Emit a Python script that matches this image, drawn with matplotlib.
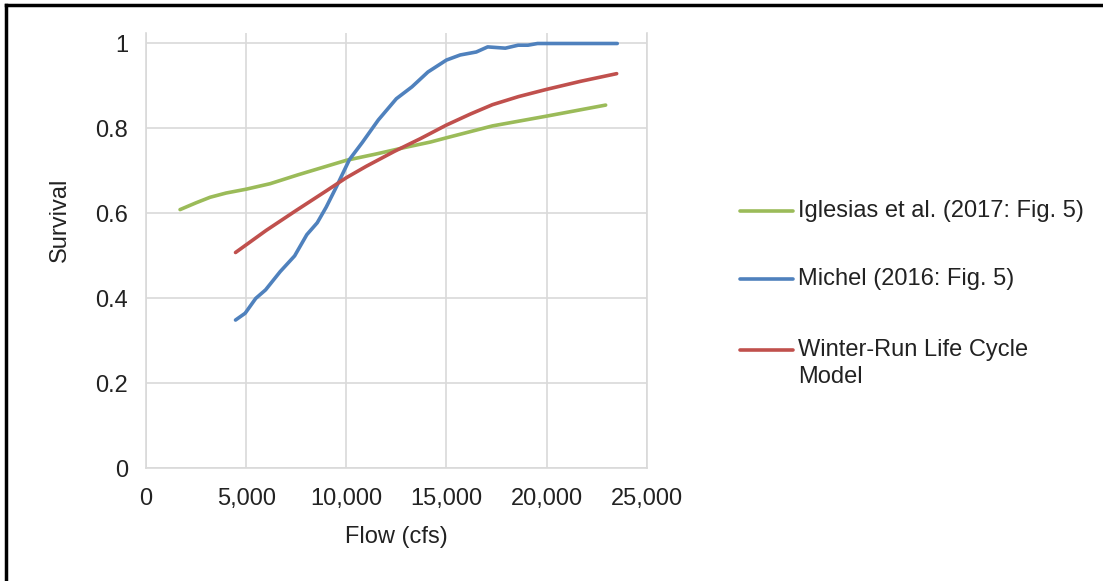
import matplotlib.pyplot as plt
import numpy as np
from matplotlib.lines import Line2D
from matplotlib.ticker import FuncFormatter

plt.rcParams['font.family'] = ['Liberation Sans', 'DejaVu Sans']

# data (flow in cfs, survival)
iglesias_flow = [1700, 2500, 3200, 4000, 5000, 6200, 7600, 8800, 10000, 11500, 13000, 14200,
                 15000, 17300, 20000, 22950]
iglesias_surv = [0.609, 0.625, 0.638, 0.648, 0.657, 0.670, 0.691, 0.708, 0.725, 0.740, 0.756,
                 0.768, 0.778, 0.806, 0.829, 0.855]

michel_flow = [4470, 4950, 5480, 5970, 6700, 7420, 8030, 8550, 9000, 9500, 10160, 10800,
               11600, 12500, 13280, 14080, 15000, 15690, 16490, 17060, 17940, 18580,
               19070, 19550, 23530]
michel_surv = [0.349, 0.365, 0.400, 0.420, 0.463, 0.500, 0.550, 0.578, 0.615, 0.662, 0.727, 0.767,
               0.820, 0.870, 0.898, 0.933, 0.961, 0.973, 0.980, 0.992, 0.989, 0.996,
               0.996, 1.0, 1.0]

lcm_flow = [4470, 6000, 7500, 9000, 10000, 11000, 12400, 13700, 15000, 16200, 17300, 18600,
            20000, 21700, 23500]
lcm_surv = [0.508, 0.560, 0.607, 0.653, 0.684, 0.711, 0.746, 0.776, 0.808, 0.834, 0.856, 0.875,
            0.892, 0.911, 0.929]

labels = ['Iglesias et al. (2017: Fig. 5)', 'Michel (2016: Fig. 5)',
          'Winter-Run Life Cycle\nModel']
colors = ['#9BBB59', '#4F81BD', '#C0504D']

FS = 17
TXT = '#222222'

fig = plt.figure(figsize=(11.03, 5.81), dpi=100)
ax = fig.add_axes([146 / 1103, 1 - 468.3 / 581, 500.7 / 1103, 435 / 581])

series = [(iglesias_flow, iglesias_surv), (michel_flow, michel_surv), (lcm_flow, lcm_surv)]
for (x, y), c in zip(series, colors):
    ax.plot(x, y, color=c, linewidth=2.6, solid_capstyle='round', solid_joinstyle='round',
            zorder=3)

ax.set_xlim(0, 25000)
ax.set_ylim(0, 1.024)
ax.set_xticks(np.arange(0, 25001, 5000))
ax.set_yticks(np.arange(0, 1.01, 0.2))
ax.xaxis.set_major_formatter(FuncFormatter(lambda v, p: f'{int(v):,}'))
ax.yaxis.set_major_formatter(FuncFormatter(lambda v, p: f'{v:g}'))
ax.tick_params(length=0, labelsize=FS, colors=TXT)
ax.tick_params(axis='y', pad=13)
ax.tick_params(axis='x', pad=14)
ax.grid(True, color='#D9D9D9', linewidth=1.2)
ax.set_axisbelow(True)
for s in ['left', 'bottom', 'right']:
    ax.spines[s].set_color('#D9D9D9')
    ax.spines[s].set_linewidth(1.2)
ax.spines['top'].set_visible(False)

ax.set_xlabel('Flow (cfs)', fontsize=FS, labelpad=12, color=TXT)
ax.set_ylabel('Survival', fontsize=FS, color=TXT)
ax.yaxis.set_label_coords(-0.150, 0.571)

# legend drawn by hand to match the Excel layout
leg_y = [211, 279.3, 350]
for lab, c, yy in zip(labels, colors, leg_y):
    fy = 1 - yy / 581
    fig.add_artist(Line2D([740 / 1103, 793 / 1103], [fy, fy], color=c, linewidth=2.6,
                          solid_capstyle='round'))
    first_line = lab.split('\n')[0]
    if '\n' in lab:
        fig.text(798 / 1103, fy, first_line, fontsize=FS, va='center', ha='left', color=TXT)
        fig.text(798 / 1103, fy - 27 / 581, lab.split('\n')[1], fontsize=FS, va='center',
                 ha='left', color=TXT)
    else:
        fig.text(798 / 1103, fy, lab, fontsize=FS, va='center', ha='left', color=TXT)

# outer frame (top and left edges visible in the reference)
fig.add_artist(Line2D([6 / 1103, 1], [1 - 5 / 581, 1 - 5 / 581], color='black', linewidth=2.5))
fig.add_artist(Line2D([6 / 1103, 6 / 1103], [0, 1 - 5 / 581], color='black', linewidth=2.5))

fig.savefig('out.png', dpi=100)
